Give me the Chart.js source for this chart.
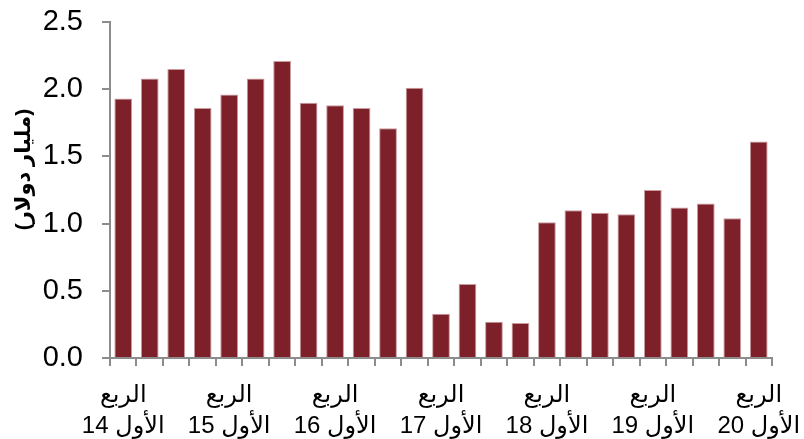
<!DOCTYPE html>
<html>
<head>
<meta charset="utf-8">
<script src="https://cdn.jsdelivr.net/npm/chart.js@4/dist/chart.umd.min.js"></script>
<style>
  html, body { margin: 0; padding: 0; background: #fff; }
  #wrap { width: 804px; height: 439px; }
</style>
</head>
<body>
<div id="wrap"><canvas id="grafica"></canvas></div>
<script>
// الفصول من الربع الأول 2014 حتى الربع الأول 2020
const trimestres = [
  "Q1-14", "Q2-14", "Q3-14", "Q4-14",
  "Q1-15", "Q2-15", "Q3-15", "Q4-15",
  "Q1-16", "Q2-16", "Q3-16", "Q4-16",
  "Q1-17", "Q2-17", "Q3-17", "Q4-17",
  "Q1-18", "Q2-18", "Q3-18", "Q4-18",
  "Q1-19", "Q2-19", "Q3-19", "Q4-19",
  "Q1-20"
];

// مليار دولار
const valores = [
  1.93, 2.08, 2.15, 1.86,
  1.96, 2.08, 2.21, 1.90,
  1.88, 1.86, 1.71, 2.01,
  0.33, 0.55, 0.27, 0.26,
  1.01, 1.10, 1.08, 1.07,
  1.25, 1.12, 1.15, 1.04,
  1.61
];

// etiquetas solo en el primer trimestre de cada año
const etiquetasAnio = {
  "Q1-14": ["الربع", "الأول 14"],
  "Q1-15": ["الربع", "الأول 15"],
  "Q1-16": ["الربع", "الأول 16"],
  "Q1-17": ["الربع", "الأول 17"],
  "Q1-18": ["الربع", "الأول 18"],
  "Q1-19": ["الربع", "الأول 19"],
  "Q1-20": ["الربع", "الأول 20"]
};

const yTicks = [0, 0.5, 1.0, 1.5, 2.0, 2.5];
// espacios al inicio para subir el título como en el original
const tituloY = "       (مليار دولار)";

const fuente = "'Liberation Sans', Arial, 'DejaVu Sans', sans-serif";
const gris = "#8c8c8c";

const ctx = document.getElementById("grafica").getContext("2d");
const chart = new Chart(ctx, {
  type: "bar",
  data: {
    labels: trimestres,
    datasets: [{
      data: valores,
      backgroundColor: "#7d2029",
      borderColor: "#c99a9e",
      borderWidth: { top: 1, left: 1, right: 1, bottom: 0 },
      categoryPercentage: 1.0,
      barPercentage: 0.67
    }]
  },
  options: {
    responsive: true,
    maintainAspectRatio: false,
    animation: false,
    layout: { padding: { top: 22, right: 32, left: 12, bottom: 0 } },
    plugins: {
      legend: { display: false },
      tooltip: { enabled: false }
    },
    scales: {
      x: {
        afterFit: (s) => {
          s.height = 81;
          s.paddingLeft = 0;
          s.paddingRight = 0;
        },
        grid: {
          offset: true,
          drawOnChartArea: false,
          drawTicks: true,
          tickLength: 8,
          color: gris,
          lineWidth: 2
        },
        border: { color: gris, width: 2 },
        ticks: {
          autoSkip: false,
          maxRotation: 0,
          minRotation: 0,
          padding: 14,
          color: "#000",
          font: { family: fuente, size: 24, lineHeight: 1.28 },
          callback: function (value, index) {
            const lab = trimestres[index];
            return etiquetasAnio[lab] || "";
          }
        }
      },
      y: {
        min: 0,
        max: 2.5,
        afterBuildTicks: (axis) => {
          axis.ticks = yTicks.map(v => ({ value: v }));
        },
        afterFit: (s) => {
          s.width = 98;
          s.paddingTop = 0;
          s.paddingBottom = 0;
        },
        grid: {
          drawOnChartArea: false,
          drawTicks: true,
          tickLength: 8,
          color: gris,
          lineWidth: 2
        },
        border: { color: gris, width: 2 },
        ticks: {
          padding: 19,
          color: "#000",
          font: { family: fuente, size: 29 },
          callback: (v) => v.toFixed(1)
        },
        title: {
          display: true,
          text: tituloY,
          color: "#000",
          padding: { top: 0, bottom: 0 },
          font: { family: fuente, size: 21, weight: "bold" }
        }
      }
    }
  }
});
</script>
</body>
</html>
